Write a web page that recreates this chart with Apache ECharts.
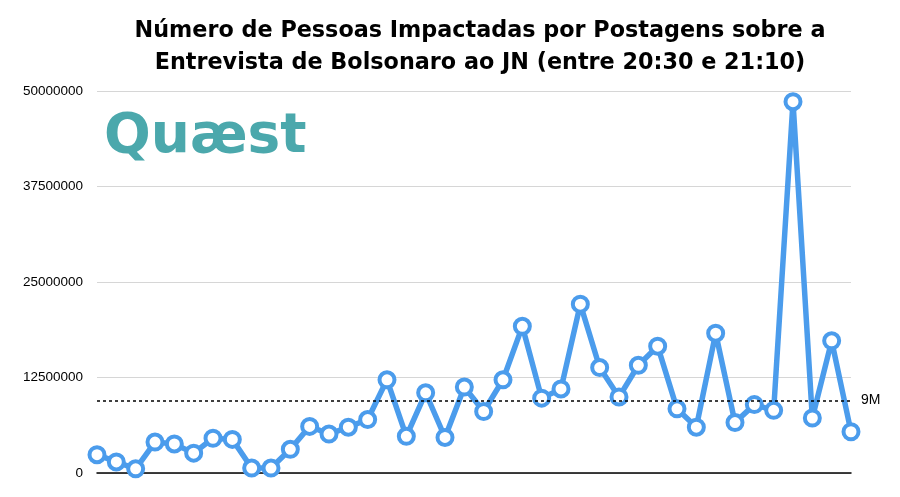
<!DOCTYPE html>
<html>
<head>
<meta charset="utf-8">
<script src="https://cdn.jsdelivr.net/npm/echarts@6/dist/echarts.min.js"></script>
<style>html,body{margin:0;padding:0;background:#fff}#c{width:900px;height:497px}</style>
</head>
<body>
<div id="c"></div>
<script>
const titleText = 'Número de Pessoas Impactadas por Postagens sobre a\nEntrevista de Bolsonaro ao JN (entre 20:30 e 21:10)';
const categories = Array.from({length: 40}, (_, i) => String(i + 1));
const impacted = [2400000, 1450000, 550000, 4050000, 3800000, 2600000, 4550000, 4400000, 650000, 650000,
  3100000, 6100000, 5100000, 6000000, 7000000, 12200000, 4800000, 10500000, 4650000, 11250000,
  8050000, 12200000, 19200000, 9800000, 11000000, 22100000, 13800000, 9950000, 14100000, 16600000,
  8400000, 6000000, 18300000, 6600000, 8950000, 8200000, 48600000, 7200000, 17300000, 5400000];
const yTicks = [0, 12500000, 25000000, 37500000, 50000000];
const refValue = 9500000;
const refLabel = '9M';
const logoText = 'Quæst';

const chart = echarts.init(document.getElementById('c'));
chart.setOption({
  backgroundColor: '#fff',
  animation: false,
  title: {
    text: titleText,
    left: 475, textAlign: 'center', top: 10,
    textStyle: {fontFamily: 'DejaVu Sans', fontWeight: 'bold', fontSize: 22.3, color: '#000', lineHeight: 32}
  },
  graphic: [{
    type: 'text', left: 104, top: 110,
    style: {text: logoText, fontFamily: 'DejaVu Sans', fontWeight: 'bold', fontSize: 55, fill: '#4ba8ac'}
  }],
  grid: {left: 97, right: 49, top: 91, bottom: 24},
  xAxis: {
    type: 'category', data: categories, boundaryGap: false,
    axisLine: {show: true, lineStyle: {color: '#000', width: 1.5}},
    axisTick: {show: false}, axisLabel: {show: false}
  },
  yAxis: {
    type: 'value', min: yTicks[0], max: yTicks[yTicks.length - 1], interval: yTicks[1] - yTicks[0],
    axisLine: {show: false},
    axisTick: {show: false},
    axisLabel: {color: '#000', fontSize: 13.5, fontFamily: 'Liberation Sans, Arial, sans-serif', margin: 14,
      formatter: v => String(v)},
    splitLine: {lineStyle: {color: '#d6d6d6', width: 1}}
  },
  series: [{
    type: 'line', data: impacted,
    lineStyle: {color: '#4b9cec', width: 5.5},
    showSymbol: true, showAllSymbol: true,
    symbol: 'circle', symbolSize: 15,
    itemStyle: {color: '#fff', borderColor: '#4b9cec', borderWidth: 4},
    z: 3,
    markLine: {
      silent: true, symbol: 'none',
      lineStyle: {type: [3, 3], color: '#000', width: 1.5},
      label: {position: 'end', formatter: refLabel, color: '#000', fontSize: 14, fontFamily: 'Liberation Sans, Arial, sans-serif', distance: 10},
      data: [{yAxis: refValue}]
    }
  }]
});
</script>
</body>
</html>
